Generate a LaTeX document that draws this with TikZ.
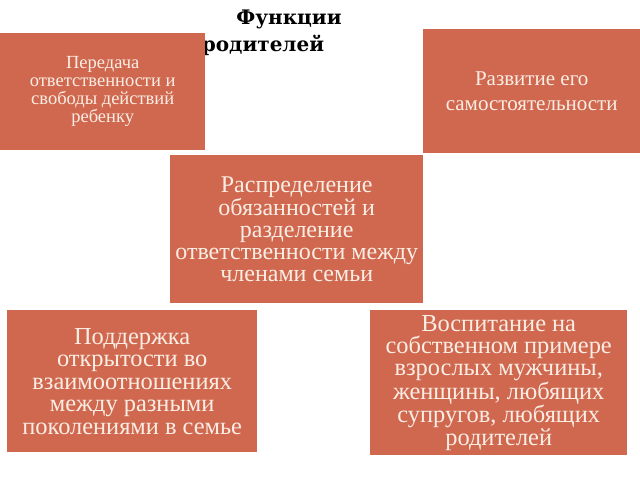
\documentclass[tikz,border=0pt]{standalone}
\usepackage{fontspec}
\setmainfont{Liberation Serif}
\newfontfamily\ttlfont{DejaVu Serif}
\definecolor{boxc}{RGB}{208,104,80}
\definecolor{txtc}{RGB}{250,238,228}
\tikzset{
  fbox/.style={fill=boxc, draw=none, inner sep=0pt, align=center, text=txtc, anchor=north west},
  ttl/.style={font=\ttlfont\bfseries\fontsize{20}{22}\selectfont, text=black, inner sep=0pt}
}
\begin{document}
\begin{tikzpicture}[x=1pt,y=-1pt]
\useasboundingbox[fill=white] (0,0) rectangle (640,480);
\node[ttl] (t1) at (289,19) {Функции};
\node[ttl] (t2) at (263,45) {родителей};
\node[fbox, minimum width=205pt, minimum height=117pt, font=\fontsize{18.5}{18}\selectfont] (b1) at (0,33) {Передача\\ответственности и\\свободы действий\\ребенку};
\node[fbox, minimum width=217pt, minimum height=124pt, font=\fontsize{21}{25}\selectfont] (b2) at (423,29) {Развитие его\\самостоятельности};
\node[fbox, minimum width=253pt, minimum height=148pt, font=\fontsize{24}{22}\selectfont] (b3) at (170,155) {Распределение\\обязанностей и\\разделение\\ответственности между\\членами семьи};
\node[fbox, minimum width=250pt, minimum height=142pt, font=\fontsize{24.4}{22.5}\selectfont] (b4) at (7,310) {Поддержка\\открытости во\\взаимоотношениях\\между разными\\поколениями в семье};
\node[fbox, minimum width=257pt, minimum height=145pt, font=\fontsize{24.4}{22.2}\selectfont] (b5) at (370,310) {Воспитание на\\собственном примере\\взрослых мужчины,\\женщины, любящих\\супругов, любящих\\родителей};
\end{tikzpicture}
\end{document}
